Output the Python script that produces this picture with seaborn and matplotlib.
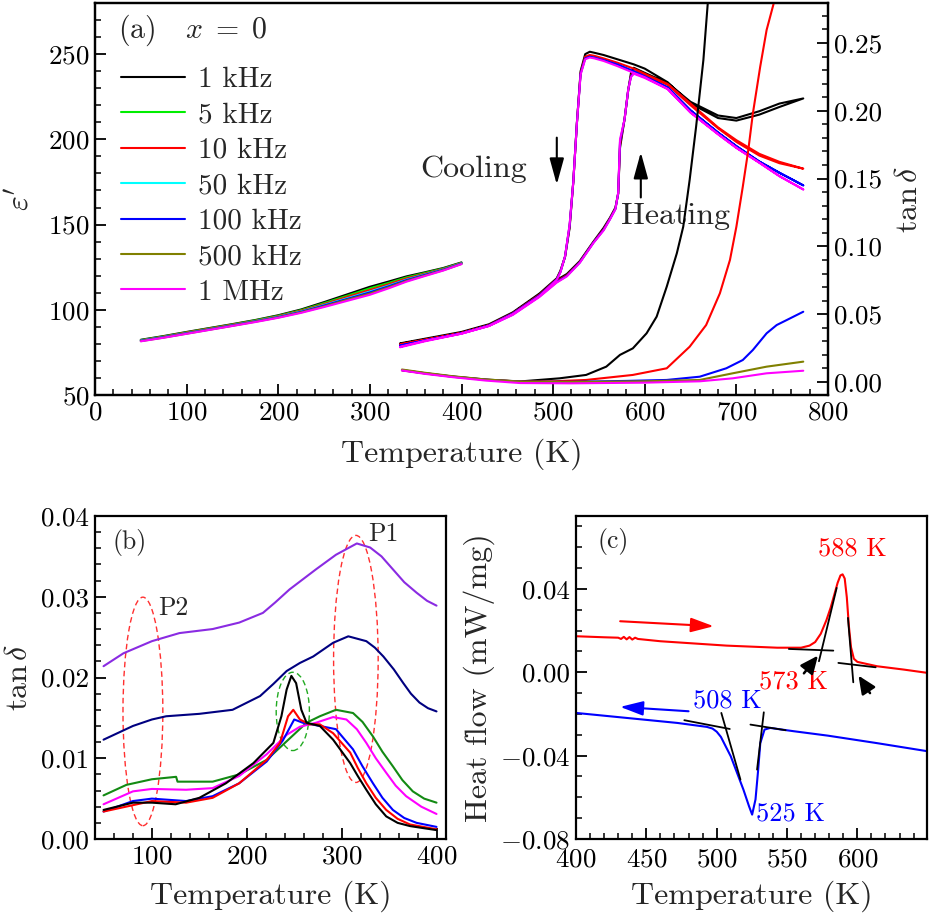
import matplotlib
matplotlib.use("Agg")
import matplotlib.pyplot as plt
import seaborn as sns
from matplotlib.patches import Ellipse
from matplotlib.lines import Line2D
from matplotlib.ticker import MultipleLocator, FuncFormatter

# ---------------- DATA ----------------
# Panel (a): low-temperature eps' (50-400 K)
T_low = [50, 75, 100, 125, 150, 175, 200, 225, 250, 275, 300, 320, 340, 360, 380, 400]
eps_low_1k   = [82.4, 84.6, 87.0, 89.3, 91.6, 94.0, 96.8, 100.2, 104.5, 109.0, 113.5, 116.5, 119.6, 122.0, 124.5, 127.8]
eps_low_5k   = [82.2, 84.4, 86.8, 89.1, 91.4, 93.8, 96.5, 99.8, 103.9, 108.2, 112.6, 115.7, 119.0, 121.6, 124.2, 127.6]
eps_low_10k  = [82.0, 84.2, 86.6, 88.9, 91.2, 93.5, 96.2, 99.4, 103.3, 107.5, 111.6, 114.9, 118.4, 121.1, 123.9, 127.4]
eps_low_50k  = [81.9, 84.0, 86.3, 88.6, 90.9, 93.3, 95.9, 99.0, 102.8, 106.7, 110.7, 114.1, 117.7, 120.7, 123.6, 127.2]
eps_low_100k = [81.8, 83.9, 86.2, 88.5, 90.8, 93.2, 95.7, 98.8, 102.5, 106.3, 110.2, 113.7, 117.4, 120.5, 123.5, 127.1]
eps_low_500k = [81.6, 83.7, 86.0, 88.3, 90.6, 93.0, 95.5, 98.5, 102.0, 105.8, 109.5, 113.1, 116.9, 120.1, 123.2, 126.9]
eps_low_1M   = [81.5, 83.6, 85.9, 88.2, 90.5, 92.8, 95.3, 98.2, 101.6, 105.2, 108.8, 112.5, 116.5, 119.8, 123.0, 126.8]

# Panel (a): high-temperature eps' (heating then cooling)
T_heat = [333, 360, 400, 430, 456, 485, 504, 515, 529, 544, 555, 562, 568, 571, 573, 578, 582, 585, 588, 600, 625, 650, 680, 700, 725, 747, 773]
T_cool = [773, 747, 725, 700, 680, 650, 625, 600, 588, 570, 555, 545, 540, 535, 530, 526, 522, 518, 513, 508, 504, 485, 456, 430, 400, 360, 333]
eps_heat_1k = [80.0, 82.5, 86.5, 91.0, 98.0, 108.8, 117.5, 121.0, 128.5, 140.0, 148.0, 154.0, 160.0, 168.0, 195.0, 212.0, 229.0, 239.0, 242.0, 239.0, 233.0, 222.0, 214.0, 212.5, 216.5, 221.0, 224.0]
eps_cool_1k = [224.0, 219.0, 214.5, 211.0, 212.5, 221.0, 233.5, 241.5, 244.0, 247.0, 249.5, 250.8, 251.4, 250.0, 240.0, 210.0, 175.0, 148.0, 131.0, 123.0, 118.5, 109.5, 98.5, 91.5, 87.0, 83.0, 80.3]
eps_heat_10k = [79.5, 82.2, 86.3, 90.8, 97.5, 108.2, 116.8, 120.3, 128.0, 139.6, 147.2, 153.5, 159.5, 168.3, 197.0, 212.0, 229.2, 237.5, 240.0, 237.5, 232.0, 220.0, 206.5, 198.5, 190.5, 186.0, 182.8]
eps_cool_10k = [182.8, 186.8, 191.5, 199.5, 207.0, 221.0, 232.5, 238.5, 241.5, 245.0, 247.5, 249.0, 249.5, 248.5, 239.0, 210.0, 175.0, 149.0, 131.2, 122.5, 118.0, 108.8, 98.0, 91.0, 86.5, 82.5, 79.8]
eps_heat_100k = [79.0, 81.9, 86.1, 90.6, 97.2, 107.8, 116.3, 119.9, 127.7, 139.4, 146.8, 153.2, 159.2, 168.4, 198.5, 211.9, 229.3, 237.0, 239.0, 236.5, 230.5, 217.0, 204.0, 196.0, 187.0, 180.4, 173.0]
eps_cool_100k = [173.0, 180.4, 187.0, 196.0, 204.0, 217.0, 230.5, 237.0, 240.0, 244.0, 246.5, 248.0, 248.5, 247.5, 238.5, 210.0, 175.0, 149.5, 131.3, 122.2, 117.8, 108.4, 97.8, 90.8, 86.2, 82.0, 79.0]
eps_heat_1M = [78.0, 81.5, 86.0, 90.5, 97.0, 107.5, 116.0, 119.6, 127.5, 139.2, 146.5, 153.0, 159.0, 168.6, 200.0, 211.8, 229.4, 236.5, 238.5, 236.0, 229.5, 215.7, 203.0, 195.0, 186.3, 178.4, 170.6]
eps_cool_1M = [170.6, 178.4, 186.3, 195.0, 203.0, 215.7, 229.5, 236.5, 239.0, 243.0, 246.0, 247.5, 248.0, 247.0, 238.0, 209.8, 175.0, 150.0, 131.4, 122.0, 117.6, 108.0, 97.5, 90.5, 86.0, 81.8, 78.3]

# Panel (a): high-temperature tan(delta)
T_tan_1k = [335, 360, 391, 427, 464, 507, 536, 558, 573, 587, 602, 613, 624, 635, 642, 649, 656, 664, 670]
tan_1k = [0.0088, 0.0065, 0.0040, 0.0018, 0.0004, 0.0027, 0.0052, 0.0113, 0.0200, 0.0248, 0.0359, 0.0482, 0.0703, 0.0949, 0.1145, 0.1490, 0.1880, 0.2375, 0.2900]
T_tan_10k = [335, 360, 391, 427, 464, 500, 536, 587, 624, 649, 667, 682, 693, 700, 707, 713, 718, 726, 733, 745]
tan_10k = [0.0086, 0.0063, 0.0038, 0.0016, 0.0003, 0.0005, 0.0015, 0.0052, 0.0101, 0.0260, 0.0420, 0.0654, 0.0900, 0.1145, 0.1440, 0.1710, 0.1980, 0.2325, 0.2596, 0.2900]
T_tan_100k = [335, 360, 391, 427, 464, 520, 580, 624, 660, 689, 707, 718, 733, 744, 755, 773]
tan_100k = [0.0087, 0.0064, 0.0039, 0.0016, 0.0002, 0.0001, 0.0008, 0.0015, 0.0039, 0.0101, 0.0162, 0.0236, 0.0359, 0.0420, 0.0457, 0.0518]
T_tan_500k = [335, 360, 391, 427, 464, 520, 600, 660, 696, 733, 773]
tan_500k = [0.0092, 0.0068, 0.0042, 0.0018, 0.0003, 0.0000, 0.0005, 0.0015, 0.0064, 0.0113, 0.0150]
T_tan_1M = [335, 360, 391, 427, 464, 520, 600, 660, 696, 733, 773]
tan_1M = [0.0085, 0.0060, 0.0035, 0.0010, -0.0008, -0.0010, -0.0005, 0.0005, 0.0027, 0.0064, 0.0083]

freq_labels = ["1 kHz", "5 kHz", "10 kHz", "50 kHz", "100 kHz", "500 kHz", "1 MHz"]
freq_colors = ["#000000", "#00EE00", "#FF0000", "#00FFFF", "#0000FF", "#808000", "#FF00FF"]

# Panel (b): low-temperature tan(delta)
Tb_purple = [49, 70, 100, 129, 164, 192, 217, 230, 245, 273, 294, 316, 330, 342, 354, 366, 379, 390, 400]
tb_purple = [0.0214, 0.0230, 0.0245, 0.0255, 0.0260, 0.0268, 0.0280, 0.0293, 0.0309, 0.0334, 0.0352, 0.0366, 0.0361, 0.0350, 0.0334, 0.0318, 0.0305, 0.0295, 0.0289]
Tb_navy = [49, 80, 100, 115, 150, 185, 214, 228, 242, 256, 270, 291, 307, 326, 335, 344, 355, 365, 373, 382, 391, 400]
tb_navy = [0.0123, 0.0140, 0.0148, 0.0152, 0.0155, 0.0160, 0.0177, 0.0192, 0.0208, 0.0218, 0.0226, 0.0243, 0.0251, 0.0245, 0.0237, 0.0226, 0.0210, 0.0193, 0.0180, 0.0169, 0.0162, 0.0158]
Tb_green = [49, 73, 100, 125.5, 127, 164, 192, 221, 242, 263, 277, 294, 312, 322, 333, 343, 354, 364, 375, 387, 400]
tb_green = [0.0054, 0.0067, 0.0074, 0.0077, 0.0071, 0.0071, 0.0080, 0.0098, 0.0121, 0.0144, 0.0152, 0.0160, 0.0156, 0.0145, 0.0127, 0.0108, 0.0090, 0.0073, 0.0059, 0.0050, 0.0045]
Tb_magenta = [49, 80, 100, 136, 164, 192, 221, 242, 256, 273, 291, 305, 316, 326, 336, 347, 357, 368, 384, 400]
tb_magenta = [0.0043, 0.0059, 0.0062, 0.0061, 0.0063, 0.0078, 0.0105, 0.0129, 0.0139, 0.0144, 0.0151, 0.0148, 0.0136, 0.0119, 0.0100, 0.0082, 0.0066, 0.0053, 0.0040, 0.0031]
Tb_blue = [49, 80, 100, 136, 164, 192, 221, 238, 250, 259, 277, 294, 312, 322, 333, 343, 354, 366, 379, 400]
tb_blue = [0.0034, 0.0047, 0.0050, 0.0047, 0.0053, 0.0069, 0.0096, 0.0122, 0.0148, 0.0144, 0.0140, 0.0136, 0.0111, 0.0090, 0.0069, 0.0051, 0.0036, 0.0026, 0.0020, 0.0015]
Tb_red = [49, 100, 136, 164, 192, 221, 235, 243.5, 249, 256, 266, 277, 291, 309, 317, 326, 336, 347, 359, 372, 400]
tb_red = [0.0034, 0.0047, 0.0045, 0.0051, 0.0069, 0.0098, 0.0119, 0.0152, 0.0160, 0.0148, 0.0142, 0.0142, 0.0131, 0.0107, 0.0088, 0.0069, 0.0051, 0.0036, 0.0025, 0.0018, 0.0012]
Tb_black = [49, 80, 100, 125, 150, 178, 207, 228, 236.5, 242, 247, 252, 257.5, 263, 277, 291, 309, 317, 326, 336, 347, 359, 372, 400]
tb_black = [0.0036, 0.0045, 0.0045, 0.0043, 0.0051, 0.0069, 0.0094, 0.0119, 0.0152, 0.0185, 0.0202, 0.0193, 0.0160, 0.0144, 0.0140, 0.0123, 0.0094, 0.0078, 0.0061, 0.0043, 0.0028, 0.0020, 0.0016, 0.0011]

# Panel (c): DSC heat flow
Tc_heat = [400, 420, 430, 432, 434, 436, 438, 440, 442, 444, 460, 507, 543, 560, 566, 570, 574, 578, 581, 583.5, 586, 588, 589.5, 591, 592.5, 594, 595.5, 597.5, 600, 614, 633, 650]
hf_heat = [0.0173, 0.0168, 0.0166, 0.0160, 0.0170, 0.0158, 0.0169, 0.0157, 0.0166, 0.0160, 0.0149, 0.0128, 0.0118, 0.0118, 0.0128, 0.0145, 0.0185, 0.0250, 0.0310, 0.0370, 0.0430, 0.0465, 0.0470, 0.0450, 0.0360, 0.0220, 0.0120, 0.0065, 0.0050, 0.0029, 0.0013, -0.0003]
Tc_cool = [400, 436, 472, 493, 497, 500, 503, 506, 510, 514.5, 519, 523, 525.2, 527.6, 529.5, 531, 534, 538, 555, 579, 614, 650]
hf_cool = [-0.0195, -0.0219, -0.0243, -0.0262, -0.0270, -0.0285, -0.0310, -0.0350, -0.0403, -0.0483, -0.0563, -0.0643, -0.0683, -0.0610, -0.0467, -0.0340, -0.0275, -0.0267, -0.0283, -0.0304, -0.0340, -0.0379]

# tangent construction lines in (c): (T0, T1), (y0, y1)
tangents_c = [((551.3, 582.9), (0.0112, 0.0104)), ((572.7, 585.3), (0.0053, 0.0405)),
              ((593.3, 597.1), (0.0261, -0.0048)), ((586.5, 613.0), (0.0045, 0.0024)),
              ((477.0, 509.3), (-0.0230, -0.0272)), ((503.3, 516.9), (-0.0195, -0.0515)),
              ((524.0, 549.0), (-0.0251, -0.0278)), ((533.5, 528.7), (-0.0192, -0.0467))]

# ---------------- STYLE ----------------
sns.set_style("ticks")
plt.rcParams.update({
    "font.family": ["cmr10", "DejaVu Serif"],
    "mathtext.fontset": "cm",
    "axes.formatter.use_mathtext": True,
    "axes.linewidth": 1.6,
    "axes.edgecolor": "black",
    "xtick.direction": "in", "ytick.direction": "in",
    "xtick.major.size": 8, "ytick.major.size": 8,
    "xtick.minor.size": 4.5, "ytick.minor.size": 4.5,
    "xtick.major.width": 1.3, "ytick.major.width": 1.3,
    "xtick.minor.width": 1.1, "ytick.minor.width": 1.1,
    "xtick.major.pad": 4, "ytick.major.pad": 4,
    "xtick.color": "black", "ytick.color": "black",
})

TICK = 19.5
LAB = 23
LW = 1.5


def fmt2(v, _):
    s = f"{abs(v):.2f}"
    return (r"$-$" + s) if v < -1e-9 else s


def line(ax, x, y, c, lw=LW, ls="-"):
    sns.lineplot(x=x, y=y, ax=ax, color=c, lw=lw, sort=False, estimator=None,
                 legend=False, linestyle=ls)


fig = plt.figure(figsize=(9.3, 9.13), dpi=100)

# ---------------- PANEL (a) ----------------
axa = fig.add_axes([95 / 930, 1 - 395 / 913, 733 / 930, 392 / 913])
axt = axa.twinx()

low_sets = [eps_low_1k, eps_low_5k, eps_low_10k, eps_low_50k, eps_low_100k, eps_low_500k, eps_low_1M]
for vals, c in zip(low_sets, freq_colors):
    line(axa, T_low, vals, c)

high_sets = [(eps_heat_1k, eps_cool_1k, freq_colors[0]),
             (eps_heat_10k, eps_cool_10k, freq_colors[2]),
             (eps_heat_100k, eps_cool_100k, freq_colors[4]),
             (eps_heat_1M, eps_cool_1M, freq_colors[6])]
for hh, cc, c in high_sets:
    line(axa, T_heat + T_cool, hh + cc, c)

tan_sets = [(T_tan_1k, tan_1k, freq_colors[0]), (T_tan_10k, tan_10k, freq_colors[2]),
            (T_tan_100k, tan_100k, freq_colors[4]), (T_tan_500k, tan_500k, freq_colors[5]),
            (T_tan_1M, tan_1M, freq_colors[6])]
for tx, ty, c in tan_sets:
    line(axt, tx, ty, c)

axa.set_xlim(0, 800)
axa.set_ylim(50, 280)
axt.set_ylim(-0.0096, 0.2795)
axa.xaxis.set_major_locator(MultipleLocator(100))
axa.xaxis.set_minor_locator(MultipleLocator(20))
axa.yaxis.set_major_locator(MultipleLocator(50))
axa.yaxis.set_minor_locator(MultipleLocator(10))
axt.yaxis.set_major_locator(MultipleLocator(0.05))
axt.yaxis.set_minor_locator(MultipleLocator(0.01))
axt.yaxis.set_major_formatter(FuncFormatter(fmt2))
axa.tick_params(which="both", top=False, right=False, labelsize=TICK)
axt.tick_params(which="both", labelsize=TICK)
axa.set_xlabel("Temperature (K)", fontsize=LAB, labelpad=10)
axa.set_ylabel(r"$\varepsilon'$", fontsize=LAB, labelpad=10)
axt.set_ylabel(r"$\tan\delta$", fontsize=LAB, labelpad=10)
for sp in axt.spines.values():
    sp.set_linewidth(1.6)

handles = [Line2D([0], [0], color=c, lw=LW) for c in freq_colors]
axa.legend(handles, freq_labels, loc="upper left", bbox_to_anchor=(0.035, 0.838),
           frameon=False, fontsize=21, handlelength=2.2, handletextpad=0.45,
           labelspacing=0.31, borderpad=0, borderaxespad=0)
axa.text(0.031, 0.931, r"(a)   $x\;=\;0$", transform=axa.transAxes, fontsize=21.5,
         ha="left", va="center")
axa.text(413.5, 182.4, "Cooling", fontsize=LAB, ha="center", va="center")
axa.text(634, 154.7, "Heating", fontsize=LAB, ha="center", va="center")
arrow_k = dict(arrowstyle="-|>,head_length=0.8,head_width=0.22", color="black", lw=1.5,
               mutation_scale=20, shrinkA=0, shrinkB=0)
axa.annotate("", xy=(504, 173.5), xytext=(504, 201), arrowprops=arrow_k)
axa.annotate("", xy=(595.7, 192.4), xytext=(595.7, 165.9), arrowprops=arrow_k)

# ---------------- PANEL (b) ----------------
axb = fig.add_axes([95 / 930, 1 - 839 / 913, 351 / 930, 323 / 913])
b_sets = [(Tb_purple, tb_purple, "#8A2BE2"), (Tb_navy, tb_navy, "#000080"),
          (Tb_green, tb_green, "#138A13"), (Tb_magenta, tb_magenta, "#FF00FF"),
          (Tb_blue, tb_blue, "#0000FF"), (Tb_red, tb_red, "#FF0000"),
          (Tb_black, tb_black, "#000000")]
for tx, ty, c in b_sets:
    line(axb, tx, ty, c)
axb.set_xlim(40, 410)
axb.set_ylim(0, 0.04)
axb.xaxis.set_major_locator(MultipleLocator(100))
axb.xaxis.set_minor_locator(MultipleLocator(20))
axb.yaxis.set_major_locator(MultipleLocator(0.01))
axb.yaxis.set_minor_locator(MultipleLocator(0.002))
axb.yaxis.set_major_formatter(FuncFormatter(fmt2))
axb.tick_params(which="both", top=False, right=False, labelsize=TICK)
axb.set_xlabel("Temperature (K)", fontsize=LAB, labelpad=9)
axb.set_ylabel(r"$\tan\delta$", fontsize=LAB, labelpad=6)
for (cx, cy, w, h, ec) in [(90.5, 0.0158, 42, 0.0283, "#FF3030"),
                           (315, 0.0223, 47, 0.0306, "#FF3030"),
                           (248.5, 0.0158, 35, 0.0097, "#22AA22")]:
    axb.add_patch(Ellipse((cx, cy), w, h, fill=False, ec=ec, lw=1.0, ls=(0, (4, 2.5))))
axb.text(76.4, 0.0367, "(b)", fontsize=18.5, ha="center", va="center")
axb.text(122, 0.0286, "P2", fontsize=18.5, ha="center", va="center")
axb.text(343.8, 0.0377, "P1", fontsize=18.5, ha="center", va="center")

# ---------------- PANEL (c) ----------------
axc = fig.add_axes([576 / 930, 1 - 839 / 913, 351 / 930, 323 / 913])
line(axc, Tc_heat, hf_heat, "#FF0000")
line(axc, Tc_cool, hf_cool, "#0000FF")
for tx, ty in tangents_c:
    line(axc, list(tx), list(ty), "black", lw=1.3)
axc.set_xlim(400, 649.5)
axc.set_ylim(-0.08, 0.075)
axc.xaxis.set_major_locator(MultipleLocator(50))
axc.xaxis.set_minor_locator(MultipleLocator(10))
axc.yaxis.set_major_locator(MultipleLocator(0.04))
axc.yaxis.set_minor_locator(MultipleLocator(0.01))
axc.yaxis.set_major_formatter(FuncFormatter(fmt2))
axc.tick_params(which="both", top=False, right=False, labelsize=TICK)
axc.tick_params(axis="x", which="major", pad=6)
axc.set_xlabel("Temperature (K)", fontsize=LAB, labelpad=7)
axc.set_ylabel("Heat flow (mW/mg)", fontsize=LAB, labelpad=4)
axc.text(426.6, 0.0629, "(c)", fontsize=18.5, ha="center", va="center")
axc.text(596.4, 0.0592, "588 K", fontsize=19, color="#FF0000", ha="center", va="center")
axc.text(554.9, -0.0043, "573 K", fontsize=19, color="#FF0000", ha="center", va="center")
axc.text(507.4, -0.0134, "508 K", fontsize=19, color="#0000FF", ha="center", va="center")
axc.text(528, -0.0678, "525 K", fontsize=19, color="#0000FF", ha="left", va="center")
arr_r = dict(arrowstyle="-|>,head_length=0.7,head_width=0.22", color="#FF0000", lw=1.5,
             mutation_scale=20, shrinkA=0, shrinkB=0)
arr_b = dict(arrowstyle="-|>,head_length=0.7,head_width=0.22", color="#0000FF", lw=1.5,
             mutation_scale=20, shrinkA=0, shrinkB=0)
arr_k = dict(arrowstyle="-|>,head_length=0.9,head_width=0.4", color="black", lw=1.8,
             mutation_scale=12, shrinkA=0, shrinkB=0)
axc.annotate("", xy=(572.0, 0.0080), xytext=(562.0, -0.0005), arrowprops=arr_k)
axc.annotate("", xy=(600.8, -0.0016), xytext=(609.0, -0.0100), arrowprops=arr_k)
axc.annotate("", xy=(497.9, 0.0221), xytext=(431.4, 0.0245), arrowprops=arr_r)
axc.annotate("", xy=(431.4, -0.0166), xytext=(480, -0.0187), arrowprops=arr_b)

fig.savefig("out.png", dpi=100)
